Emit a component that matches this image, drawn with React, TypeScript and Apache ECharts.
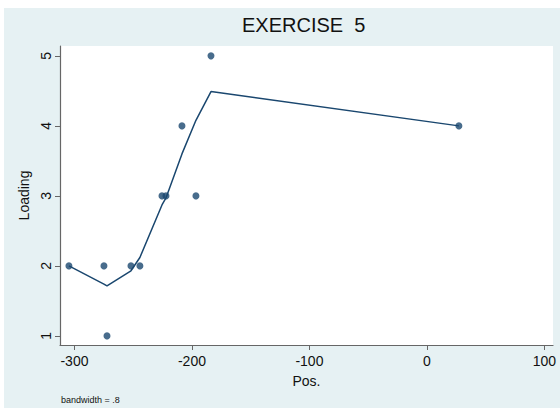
import React, { useEffect, useRef } from "react";
import * as echarts from "echarts";

const posValues = [-304.7, -274.9, -272.3, -251.9, -244.3, -225.5, -222.1, -208.5, -196.6, -183.8, 27.2];
const loadingValues = [2, 2, 1, 2, 2, 3, 3, 4, 3, 5, 4];
const lowessValues = [2.0, 1.74, 1.714, 1.93, 2.12, 2.87, 2.97, 3.6, 4.08, 4.49, 4.0];
const xTicks = [-300, -200, -100, 0, 100];
const yTicks = [1, 2, 3, 4, 5];
const titleText = "EXERCISE  5";
const noteText = "bandwidth = .8";

const FONT = "'Liberation Sans', Arial, sans-serif";
const NAVY = "#1a476f";

export default function App() {
  const ref = useRef<HTMLDivElement>(null);
  useEffect(() => {
    document.body.style.margin = "0";
    if (!ref.current) return;
    const chart = echarts.init(ref.current, null, { renderer: "svg" });
    chart.setOption({
      animation: false,
      backgroundColor: "#ffffff",
      textStyle: { fontFamily: FONT },
      graphic: [
        {
          type: "rect",
          z: -10,
          silent: true,
          shape: { x: 4, y: 8, width: 556, height: 400 },
          style: { fill: "#e6f1f3" },
        },
        {
          type: "text",
          left: 61,
          top: 395,
          style: { text: noteText, fontSize: 9, fill: "#111", fontFamily: FONT },
        },
      ],
      title: {
        text: titleText,
        left: 242,
        top: 15,
        textStyle: { fontSize: 20, fontWeight: "normal", color: "#111", fontFamily: FONT },
        padding: 0,
      },
      grid: {
        left: 60,
        right: 7,
        top: 46,
        bottom: 63,
        show: true,
        backgroundColor: "#ffffff",
        borderWidth: 0,
      },
      xAxis: {
        type: "value",
        min: -312.3,
        max: 107.3,
        name: "Pos.",
        nameLocation: "middle",
        nameGap: 29,
        nameTextStyle: { fontSize: 14, color: "#111", fontFamily: FONT },
        axisLine: { show: true, onZero: false, lineStyle: { color: "#666", width: 1.2 } },
        axisTick: { show: true, length: 5, customValues: xTicks, lineStyle: { color: "#666" } },
        axisLabel: { customValues: xTicks, fontSize: 14, color: "#111", margin: 9, fontFamily: FONT },
        splitLine: { show: false },
      },
      yAxis: {
        type: "value",
        min: 0.87,
        max: 5.141,
        name: "Loading",
        nameLocation: "middle",
        nameRotate: 90,
        nameGap: 22,
        nameTextStyle: { fontSize: 14, color: "#111", fontFamily: FONT },
        axisLine: { show: true, onZero: false, lineStyle: { color: "#666", width: 1.2 } },
        axisTick: { show: true, length: 5, customValues: yTicks, lineStyle: { color: "#666" } },
        axisLabel: { customValues: yTicks, rotate: 90, fontSize: 14, color: "#111", margin: 7.5, fontFamily: FONT },
        splitLine: { show: false },
      },
      series: [
        {
          type: "scatter",
          data: posValues.map((x, i) => [x, loadingValues[i]]),
          symbolSize: 7,
          itemStyle: { color: NAVY },
          z: 3,
        },
        {
          type: "line",
          data: posValues.map((x, i) => [x, lowessValues[i]]),
          showSymbol: false,
          symbol: "none",
          lineStyle: { color: NAVY, width: 1.5 },
          z: 2,
        },
      ],
    });
    return () => chart.dispose();
  }, []);
  return <div ref={ref} style={{ width: 560, height: 408 }} />;
}
